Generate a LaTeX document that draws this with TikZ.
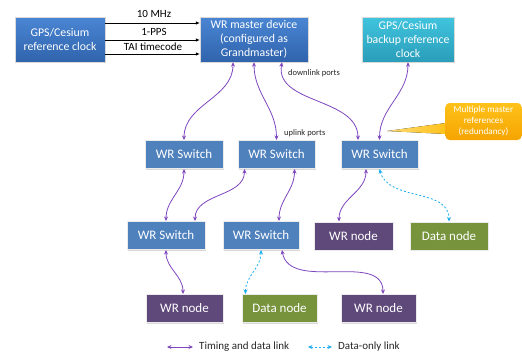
\documentclass[tikz,border=0pt]{standalone}
\usepackage{fontspec}
\setmainfont{Carlito}
\usetikzlibrary{arrows.meta,shadows,calc}
\definecolor{mblue}{HTML}{4A86D4}
\definecolor{mblueD}{HTML}{3063AC}
\definecolor{cyanT}{HTML}{40C4DE}
\definecolor{cyanB}{HTML}{2A9DB9}
\definecolor{swblue}{HTML}{4F81BD}
\definecolor{wrpurple}{HTML}{5F497A}
\definecolor{dgreen}{HTML}{77933C}
\definecolor{linkpurple}{HTML}{7E45BE}
\definecolor{datacyan}{HTML}{1CAEEF}
\definecolor{calloutT}{HTML}{FFC21A}
\definecolor{calloutB}{HTML}{F5A400}
\begin{document}
\begin{tikzpicture}[x=1pt,y=-1pt,
  boxbase/.style={rectangle, text=white, align=center, inner sep=1pt,
    drop shadow={opacity=0.3, shadow xshift=1pt, shadow yshift=-1pt}},
  bigbox/.style={boxbase, minimum height=45pt, font=\fontsize{11.8}{14}\selectfont,
    draw=white!85!black, line width=0.4pt},
  masterbox/.style={bigbox, top color=mblue, bottom color=mblueD},
  backupbox/.style={bigbox, top color=cyanT, bottom color=cyanB},
  smallbox/.style={boxbase, minimum height=28pt, font=\fontsize{13}{15}\selectfont,
    draw=white!92!black, line width=1pt},
  switchbox/.style={smallbox, fill=swblue},
  wrbox/.style={smallbox, fill=wrpurple},
  databox/.style={smallbox, fill=dgreen},
  tdlink/.style={draw=linkpurple, line width=0.8pt,
    {Stealth[length=4.5pt,width=4pt]}-{Stealth[length=4.5pt,width=4pt]}},
  dolink/.style={draw=datacyan, line width=0.8pt, dash pattern=on 2pt off 2pt,
    {Stealth[length=4.5pt,width=4pt]}-{Stealth[length=4.5pt,width=4pt]}},
  reflink/.style={draw=black, line width=0.7pt, -{Latex[length=4pt,width=3.5pt]}},
  linklabel/.style={font=\fontsize{11}{12}\selectfont, text=black, inner sep=0pt},
  portlabel/.style={font=\fontsize{8.5}{10}\selectfont, text=black!85, inner sep=0pt},
  legendtext/.style={font=\fontsize{11}{12}\selectfont, text=black!85, anchor=west, inner sep=0pt}
]
\useasboundingbox (0,0) rectangle (522,360);

% top row
\node[masterbox, minimum width=90pt] (ref) at (60,39.5) {GPS/Cesium\\reference clock};
\node[masterbox, minimum width=108pt] (m) at (254,39.5) {WR master device\\(configured as\\Grandmaster)};
\node[backupbox, minimum width=92pt] (bk) at (408,39.5) {GPS/Cesium\\backup reference\\clock};

% switches row 1
\node[switchbox, minimum width=78pt] (s1) at (184,154.5) {WR Switch};
\node[switchbox, minimum width=77pt] (s2) at (276.5,154.5) {WR Switch};
\node[switchbox, minimum width=77pt] (s3) at (379.5,154.5) {WR Switch};

% row 2
\node[switchbox, minimum width=78pt] (s4) at (166,235.5) {WR Switch};
\node[switchbox, minimum width=76pt] (s5) at (261,235.5) {WR Switch};
\node[wrbox, minimum width=79pt] (n2) at (353.5,236) {WR node};
\node[databox, minimum width=78pt] (d2) at (449,236) {Data node};

% row 3
\node[wrbox, minimum width=77pt] (n3a) at (184.5,308.5) {WR node};
\node[databox, minimum width=75pt] (d3) at (279.5,308.5) {Data node};
\node[wrbox, minimum width=75pt] (n3b) at (378.5,308.5) {WR node};

% reference links
\draw[reflink] ([yshift=16.5pt]ref.east) -- ([yshift=16.5pt]m.west);
\draw[reflink] ([yshift=-0.5pt]ref.east) -- ([yshift=-0.5pt]m.west);
\draw[reflink] ([yshift=-14.5pt]ref.east) -- ([yshift=-14.5pt]m.west);
\node[linklabel] (l1) at (154,14) {10 MHz};
\node[linklabel] (l2) at (154,31.5) {1-PPS};
\node[linklabel] (l3) at (153,46.5) {TAI timecode};

% port labels
\node[portlabel, anchor=west] (dp) at (288,73) {downlink ports};
\node[portlabel, anchor=west] (up) at (284,133) {uplink ports};

% timing links
\draw[tdlink] ([xshift=-21pt]m.south) to[out=-90,in=90] (s1.north);
\draw[tdlink] (m.south) to[out=-90,in=90] (s2.north);
\draw[tdlink] ([xshift=28pt]m.south) to[out=-100,in=90] ([xshift=-21.5pt]s3.north);
\draw[tdlink] (bk.south) to[out=-90,in=90] (s3.north);
\draw[tdlink] (s1.south) to[out=-90,in=90] (s4.north);
\draw[tdlink] ([xshift=-32pt]s2.south) to[out=-90,in=90] ([xshift=29pt]s4.north);
\draw[tdlink] ([xshift=18pt]s2.south) to[out=-90,in=90] ([xshift=18pt]s5.north);
\draw[tdlink] ([xshift=-13.5pt]s3.south) to[out=-90,in=90] ([xshift=-14.5pt]n2.north);
\draw[dolink] (s3.south) to[out=-75,in=90] (d2.north);
\draw[tdlink] (s4.south) to[out=-90,in=90] ([xshift=-1.5pt]n3a.north);
\draw[dolink] (s5.south) to[out=-90,in=90] ([xshift=-34pt]d3.north);
\draw[tdlink] ([xshift=21pt]s5.south) to[out=-80,in=90] ([xshift=4.5pt]n3b.north);

% callout
\fill[left color=calloutT!60!white, right color=calloutT] (387,131) -- (446,123) -- (446,134) -- cycle;
\node[rectangle, rounded corners=4pt, top color=calloutT, bottom color=calloutB,
  minimum width=76pt, minimum height=37pt, text=white, align=center, inner sep=0pt,
  font=\fontsize{9.2}{11}\selectfont] (co) at (483.5,121.5) {Multiple master\\references\\(redundancy)};

% legend
\coordinate (la) at (167,347);
\coordinate (lb) at (193,347);
\coordinate (lc) at (308,347);
\coordinate (ld) at (332,347);
\draw[tdlink] (la) -- (lb);
\draw[dolink] (lc) -- (ld);
\node[legendtext] (lt1) at (199,346.5) {Timing and data link};
\node[legendtext] (lt2) at (338,346.5) {Data-only link};
\end{tikzpicture}
\end{document}
